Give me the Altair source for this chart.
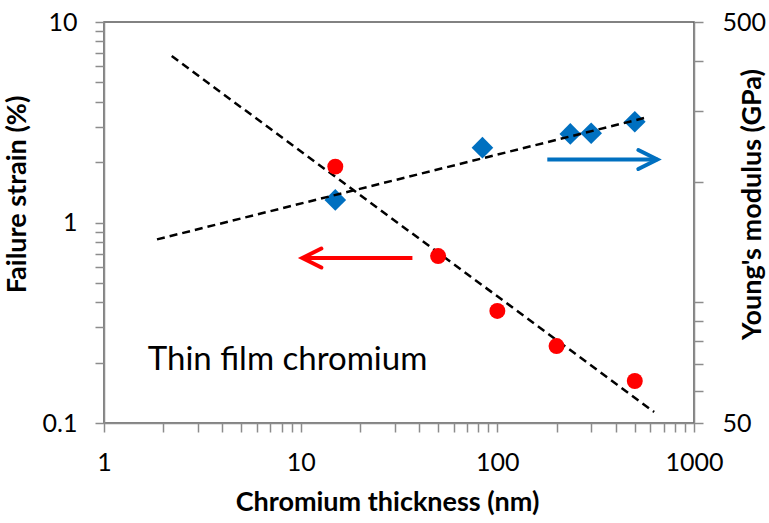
import altair as alt
import pandas as pd

# ---- data ----
strain_thickness = [15, 50, 100, 200, 500]
strain_values = [1.9, 0.68, 0.362, 0.242, 0.162]

modulus_thickness = [15, 84, 235, 300, 500]
modulus_values = [180, 243, 263, 264, 282]

strain_fit_x = [2.21, 627]
strain_fit_y = [6.76, 0.1135]

modulus_fit_x = [1.86, 557]
modulus_fit_y = [143.5, 288]

# arrows (start, tip) in data units
red_arrow_x = [37, 10.2]
red_arrow_y = 0.665
blue_arrow_x = [179.5, 651]
blue_arrow_y = 227

note_text = ["Thin film chromium"]
note_x = [1.67]
note_y = [0.184]

x_ticks = [m * 10 ** e for e in range(0, 3) for m in range(1, 10)] + [1000]
yl_ticks = [round(m * 10 ** e, 6) for e in (-1, 0) for m in range(1, 10)] + [10]
yr_ticks = [50, 60, 70, 80, 90, 100, 200, 300, 400, 500]

RED = "#FF0000"
BLUE = "#0070C0"
FONT = "Lato"
AXIS_GRAY = "#8C8C8C"

common_axis = dict(
    grid=False,
    domainColor=AXIS_GRAY,
    domainWidth=1.5,
    tickColor=AXIS_GRAY,
    tickWidth=1.5,
    tickSize=9,
    labelFont=FONT,
    labelFontSize=25,
    labelColor="#000000",
    titleFont=FONT,
    titleFontSize=27,
    titleFontWeight="bold",
    titleColor="#000000",
)

x_axis = alt.Axis(
    title="Chromium thickness (nm)",
    values=x_ticks,
    format="~g",
    labelExpr="indexof([1,10,100,1000], datum.value) >= 0 ? datum.label : ''",
    labelPadding=18,
    labelFlush=False,
    labelOverlap=False,
    titleX=283,
    titleY=87,
    titleAlign="center",
    titleBaseline="alphabetic",
    **common_axis,
)
x_scale = alt.Scale(type="log", domain=[1, 1000], nice=False)

yl_axis = alt.Axis(
    title="Failure strain (%)",
    orient="left",
    values=yl_ticks,
    format="~g",
    labelExpr="indexof([0.1,1,10], datum.value) >= 0 ? datum.label : ''",
    labelPadding=18,
    labelFlush=False,
    labelOverlap=False,
    titleAngle=270,
    titleX=-87,
    titleY=172,
    titleAlign="center",
    titleBaseline="middle",
    **common_axis,
)
yl_scale = alt.Scale(type="log", domain=[0.1, 10], nice=False)

yr_axis = alt.Axis(
    title="Young's modulus (GPa)",
    orient="right",
    values=yr_ticks,
    format="~g",
    labelExpr="indexof([50,500], datum.value) >= 0 ? datum.label : ''",
    labelPadding=19,
    labelFlush=False,
    labelOverlap=False,
    titleAngle=270,
    titleX=58,
    titleY=182,
    titleAlign="center",
    titleBaseline="middle",
    **common_axis,
)
yr_scale = alt.Scale(type="log", domain=[50, 500], nice=False)


def X(field="x"):
    return alt.X(f"{field}:Q", scale=x_scale, axis=x_axis)


def YL(field="y"):
    return alt.Y(f"{field}:Q", scale=yl_scale, axis=yl_axis)


def YR(field="y"):
    return alt.Y(f"{field}:Q", scale=yr_scale, axis=yr_axis)


strain_df = pd.DataFrame({"x": strain_thickness, "y": strain_values})
modulus_df = pd.DataFrame({"x": modulus_thickness, "y": modulus_values})
strain_fit_df = pd.DataFrame({"x": strain_fit_x, "y": strain_fit_y})
modulus_fit_df = pd.DataFrame({"x": modulus_fit_x, "y": modulus_fit_y})
red_arrow_df = pd.DataFrame({"x": [red_arrow_x[0]], "x2": [red_arrow_x[1]], "y": [red_arrow_y]})
red_tip_df = pd.DataFrame({"x": [red_arrow_x[1]], "y": [red_arrow_y]})
blue_arrow_df = pd.DataFrame({"x": [blue_arrow_x[0]], "x2": [blue_arrow_x[1]], "y": [blue_arrow_y]})
blue_tip_df = pd.DataFrame({"x": [blue_arrow_x[1]], "y": [blue_arrow_y]})
note_df = pd.DataFrame({"x": note_x, "y": note_y, "t": note_text})

dash = [8, 5]

# ---- left-axis group ----
strain_fit = alt.Chart(strain_fit_df).mark_line(
    color="#000000", strokeDash=dash, strokeWidth=2.5
).encode(x=X(), y=YL())

strain_pts = alt.Chart(strain_df).mark_point(
    shape="circle", filled=True, color=RED, size=255, opacity=1
).encode(x=X(), y=YL())

red_rule = alt.Chart(red_arrow_df).mark_rule(
    color=RED, strokeWidth=4
).encode(x=X(), x2="x2:Q", y=YL())

red_tip = alt.Chart(red_tip_df).mark_point(
    shape="M1,-0.5L0,0L1,0.5", filled=False, color=RED, size=1444,
    strokeWidth=4, strokeCap="round", strokeJoin="miter", opacity=1
).encode(x=X(), y=YL())

note = alt.Chart(note_df).mark_text(
    align="left", baseline="alphabetic", font=FONT, fontSize=33, color="#000000"
).encode(x=X(), y=YL(), text="t:N")

left_group = alt.layer(strain_fit, strain_pts, red_rule, red_tip, note)

# ---- right-axis group ----
modulus_fit = alt.Chart(modulus_fit_df).mark_line(
    color="#000000", strokeDash=dash, strokeWidth=2.5
).encode(x=X(), y=YR())

modulus_pts = alt.Chart(modulus_df).mark_point(
    shape="diamond", filled=True, color=BLUE, size=470, opacity=1
).encode(x=X(), y=YR())

blue_rule = alt.Chart(blue_arrow_df).mark_rule(
    color=BLUE, strokeWidth=4
).encode(x=X(), x2="x2:Q", y=YR())

blue_tip = alt.Chart(blue_tip_df).mark_point(
    shape="M-1,-0.5L0,0L-1,0.5", filled=False, color=BLUE, size=1444,
    strokeWidth=4, strokeCap="round", strokeJoin="miter", opacity=1
).encode(x=X(), y=YR())

right_group = alt.layer(modulus_pts, modulus_fit, blue_rule, blue_tip)

chart = (
    alt.layer(left_group, right_group)
    .resolve_scale(y="independent")
    .properties(
        width=590,
        height=401,
        autosize=alt.AutoSizeParams(type="none"),
        padding={"left": 104, "top": 22, "right": 75, "bottom": 100},
        background="#FFFFFF",
    )
    .configure_view(stroke="#595959", strokeWidth=1.5)
)

chart.save("out.html", embed_options={"renderer": "svg", "actions": False})
